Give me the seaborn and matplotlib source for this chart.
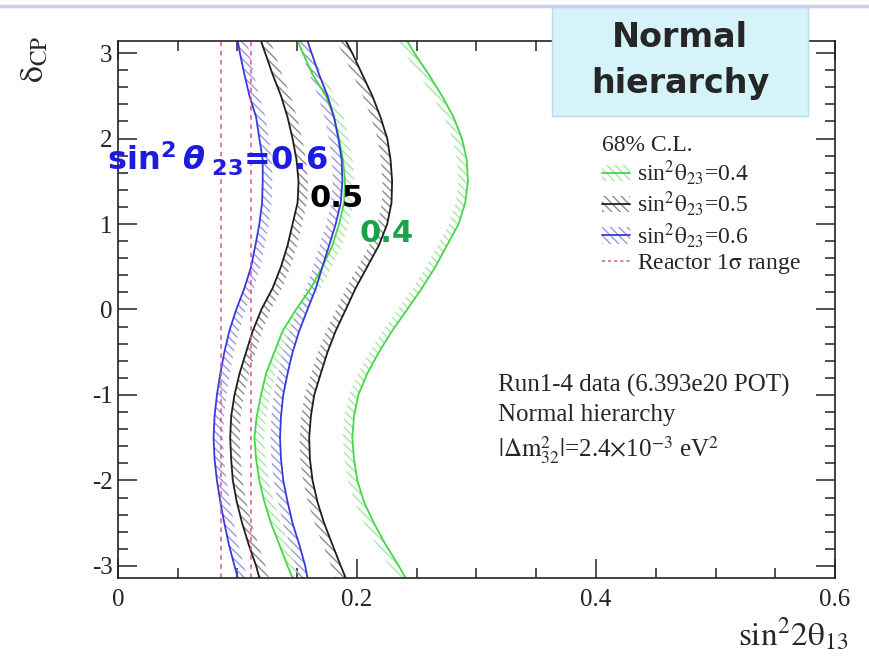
import numpy as np
import matplotlib
matplotlib.use("Agg")
import matplotlib.pyplot as plt
import seaborn as sns
from matplotlib.patches import Patch, Rectangle
from matplotlib.lines import Line2D
from matplotlib.ticker import MultipleLocator, FuncFormatter

# delta_CP sample points (y axis), bottom to top
delta_cp = [-np.pi, -3.0, -2.75, -2.5, -2.25, -2.0, -1.75, -1.5, -1.25, -1.0, -0.75, -0.5, -0.25,
            0.0, 0.25, 0.5, 0.75, 1.0, 1.25, 1.5, 1.75, 2.0, 2.25, 2.5, 2.75, 3.0, np.pi]

# 68% C.L. contour edges in sin^2(2 theta13)
green_left = [0.1461, 0.1419, 0.135, 0.128, 0.1225, 0.1183, 0.1156, 0.1142, 0.1161, 0.1197, 0.1239, 0.1308, 0.1378,
              0.149, 0.1614, 0.1711, 0.1794, 0.185, 0.1892, 0.19, 0.1883, 0.185, 0.1808, 0.1739, 0.1628, 0.1547, 0.1503]
green_right = [0.2406, 0.235, 0.2239, 0.2142, 0.2058, 0.2003, 0.1975, 0.1961, 0.1975, 0.2011, 0.2086, 0.2183, 0.2294,
               0.242, 0.2544, 0.2656, 0.2753, 0.285, 0.2906, 0.2928, 0.2919, 0.2878, 0.2808, 0.2711, 0.26, 0.248, 0.2419]
black_left = [0.1183, 0.1156, 0.1094, 0.1039, 0.0994, 0.0961, 0.0947, 0.0939, 0.0947, 0.0975, 0.1017, 0.1072, 0.1128,
              0.120, 0.1294, 0.1364, 0.1419, 0.1461, 0.1503, 0.1511, 0.1494, 0.1461, 0.1419, 0.1364, 0.1294, 0.1232, 0.1197]
black_right = [0.1906, 0.1864, 0.1794, 0.1725, 0.1669, 0.1628, 0.1606, 0.160, 0.1614, 0.1642, 0.1697, 0.1753, 0.1822,
               0.1906, 0.1989, 0.2086, 0.2183, 0.2253, 0.2289, 0.2294, 0.2281, 0.2253, 0.2197, 0.2128, 0.2044, 0.196, 0.1906]
blue_left = [0.1003, 0.0975, 0.0928, 0.089, 0.0856, 0.0828, 0.0808, 0.080, 0.0808, 0.0828, 0.0856, 0.089, 0.0932,
             0.099, 0.1058, 0.1114, 0.115, 0.1183, 0.1206, 0.1211, 0.1211, 0.1183, 0.1156, 0.110, 0.1058, 0.102, 0.1003]
blue_right = [0.1586, 0.1567, 0.1517, 0.1461, 0.1419, 0.1383, 0.1364, 0.1356, 0.1364, 0.1383, 0.1419, 0.1461, 0.1517,
              0.1586, 0.1656, 0.1711, 0.1767, 0.1822, 0.1864, 0.1878, 0.1872, 0.1844, 0.1808, 0.1753, 0.1683, 0.162, 0.1586]

# reactor 1 sigma range
reactor_range = [0.086, 0.111]

theta23_labels = [r'sin$^2\mathrm{\theta}_{23}$=0.4', r'sin$^2\mathrm{\theta}_{23}$=0.5', r'sin$^2\mathrm{\theta}_{23}$=0.6']

bands = [
    (green_left, green_right, '#45d845', '#a6e8a6'),
    (black_left, black_right, '#1e1e1e', '#8c8c8c'),
    (blue_left, blue_right, '#3a3ad8', '#9a9ae0'),
]

sns.set_style("ticks")
plt.rcParams['font.family'] = ['Liberation Serif', 'DejaVu Serif']
plt.rcParams['axes.unicode_minus'] = False
plt.rcParams['mathtext.fontset'] = 'stix'
plt.rcParams['mathtext.rm'] = 'DejaVu Sans:bold'
plt.rcParams['mathtext.it'] = 'DejaVu Sans:italic:bold'
plt.rcParams['mathtext.bf'] = 'DejaVu Sans:bold'
plt.rcParams['hatch.linewidth'] = 1.0

fig = plt.figure(figsize=(8.7, 6.64), dpi=100)
ax = fig.add_axes([0.1356, 0.1295, 0.8242, 0.8088])

hatch_w = 0.008
hatch = '\\\\\\\\'
for left, right, line_c, hatch_c in bands:
    ax.fill_betweenx(delta_cp, left, np.array(left) + hatch_w, facecolor='none',
                     edgecolor=hatch_c, hatch=hatch, linewidth=0)
    ax.fill_betweenx(delta_cp, np.array(right) - hatch_w, right, facecolor='none',
                     edgecolor=hatch_c, hatch=hatch, linewidth=0)
    sns.lineplot(x=left, y=delta_cp, sort=False, orient='y', color=line_c, lw=1.3, ax=ax)
    sns.lineplot(x=right, y=delta_cp, sort=False, orient='y', color=line_c, lw=1.3, ax=ax)

for xr in reactor_range:
    ax.axvline(xr, color='#e0509a', lw=1.1, ls=(0, (3, 3)))

ax.set_xlim(0, 0.6)
ax.set_ylim(-np.pi, np.pi)
ax.xaxis.set_major_locator(MultipleLocator(0.2))
ax.xaxis.set_minor_locator(MultipleLocator(0.05))
ax.yaxis.set_major_locator(MultipleLocator(1))
ax.yaxis.set_minor_locator(MultipleLocator(0.2))
ax.xaxis.set_major_formatter(FuncFormatter(lambda v, p: '0' if v == 0 else f'{v:.1f}'))
ax.tick_params(which='both', direction='in', top=True, right=True, width=1.1, colors='#222222')
ax.tick_params(which='major', length=14, labelsize=18)
ax.tick_params(which='minor', length=7)
ax.tick_params(axis='x', pad=8)
ax.tick_params(axis='y', pad=4)
for s in ax.spines.values():
    s.set_linewidth(1.2)
    s.set_color('#222222')

ax.set_xlabel(r'$\mathrm{sin^{2}2\theta_{13}}$', fontsize=24)
ax.xaxis.set_label_coords(1.018, -0.106)
ax.xaxis.label.set_ha('right')
ax.xaxis.label.set_va('center')
ax.set_ylabel('')
fig.text(0.04, 0.91, r'$\mathrm{\delta_{CP}}$', rotation=90, fontsize=24, ha='center', va='center')

# legend
handles = []
for left, right, line_c, hatch_c in bands:
    handles.append((Patch(facecolor='none', edgecolor=hatch_c, hatch=hatch, lw=0),
                    Line2D([], [], color=line_c, lw=1.3)))
handles.append(Line2D([], [], color='#e0509a', lw=1.1, ls=(0, (2, 2))))
leg = ax.legend(handles, theta23_labels + [r'Reactor 1$\mathrm{\sigma}$ range'], title='68% C.L.',
                loc='upper left', bbox_to_anchor=(0.658, 0.847), frameon=False,
                fontsize=17, title_fontsize=17, handlelength=1.2, handletextpad=0.3,
                labelspacing=0.1, alignment='left', borderpad=0)

# info text
ax.text(0.318, -0.89, 'Run1-4 data (6.393e20 POT)', fontsize=18, va='center')
ax.text(0.318, -1.24, 'Normal hierarchy', fontsize=18, va='center')
ax.text(0.318, -1.65, r'$|\Delta \mathrm{m}^{2}_{32}|$=2.4$\times$10$^{-3}$ eV$^{2}$', fontsize=18, va='center')

# curve annotations
ax.text(-0.009, 1.63, r'$\mathrm{sin}^{2}\,\theta_{\ 23}$=0.6', math_fontfamily='custom',
        family='DejaVu Sans', fontweight='bold', fontsize=23, color='#1c1ce0', clip_on=False)
ax.text(0.16, 1.2, '0.5', fontsize=22, fontweight='bold', family='DejaVu Sans', color='black')
ax.text(0.2025, 0.79, '0.4', fontsize=22, fontweight='bold', family='DejaVu Sans', color='#17a349')

# slide header line and title box
fig.add_artist(Line2D([0, 1], [0.991, 0.991], transform=fig.transFigure, color='#c2d2ec', lw=2.5))
fig.add_artist(Rectangle((0.6345, 0.8253), 0.2942, 0.1642, transform=fig.transFigure,
                         facecolor='#d6f3fa', edgecolor='#b2dfec', lw=1))
fig.text(0.7816, 0.944, 'Normal', fontsize=24, fontweight='bold', family='DejaVu Sans', ha='center', va='center')
fig.text(0.7816, 0.875, 'hierarchy', fontsize=24, fontweight='bold', family='DejaVu Sans', ha='center', va='center')

fig.savefig('out.png', dpi=100)
